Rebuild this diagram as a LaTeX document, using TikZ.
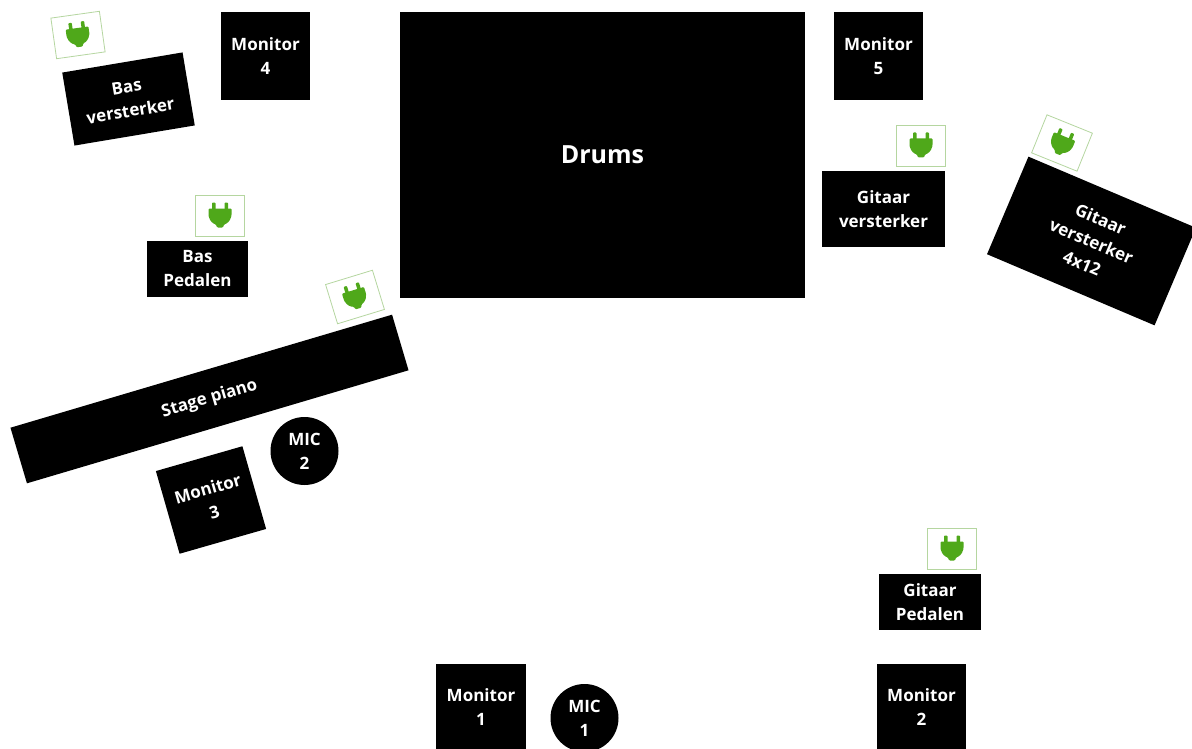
\documentclass[tikz,border=0pt]{standalone}
\usepackage{fontspec}
\setmainfont{Open Sans}
\definecolor{plugGreen}{HTML}{4FA81A}
\definecolor{plugEdge}{HTML}{B5D6A0}
\tikzset{
  x=1pt,y=-1pt,
  stagebox/.style={fill=black,draw=none,text=white,font=\fontsize{17}{24}\selectfont\bfseries,align=center,inner sep=0pt,outer sep=0pt},
  micdisc/.style={stagebox,circle,minimum size=68pt},
  plugbox/.style={draw=plugEdge,line width=0.8pt,fill=white,minimum width=#1,minimum height=41pt,inner sep=0pt},
  plugbox/.default=49pt,
  pics/plugicon/.style={code={
    \fill[plugGreen,rounded corners=0.8pt] (-8,-13) rectangle (-4.5,-3);
    \fill[plugGreen,rounded corners=0.8pt] (4.5,-13) rectangle (8,-3);
    \fill[plugGreen,rounded corners=1pt] (-11.5,-7) -- (11.5,-7) -- (11.5,0) .. controls (10,6) and (7,8) .. (4,9) -- (3,12) -- (-3,12) -- (-4,9) .. controls (-7,8) and (-10,6) .. (-11.5,0) -- cycle;
  }}
}
\begin{document}
\begin{tikzpicture}
\useasboundingbox (0,0) rectangle (1192,749);
\node[stagebox,minimum width=405pt,minimum height=286pt,font=\fontsize{25}{30}\selectfont\bfseries] (drums) at (602.5,155) {Drums};
\node[stagebox,minimum width=89pt,minimum height=88pt] (mon4) at (265.5,56) {Monitor\\4};
\node[stagebox,minimum width=89pt,minimum height=88pt] (mon5) at (878.5,56) {Monitor\\5};
\node[stagebox,minimum width=90pt,minimum height=86pt] (mon1) at (481,707) {Monitor\\1};
\node[stagebox,minimum width=89pt,minimum height=86pt] (mon2) at (921.5,707) {Monitor\\2};
\node[stagebox,minimum width=90pt,minimum height=86pt,rotate=16] (mon3) at (211,500) {Monitor\\3};
\node[stagebox,minimum width=122pt,minimum height=74pt,rotate=9.5] (basamp) at (128.5,99) {Bas\\versterker};
\node[stagebox,minimum width=101pt,minimum height=56pt] (baspedal) at (197.5,269) {Bas\\Pedalen};
\node[stagebox,minimum width=123pt,minimum height=76pt] (gitamp) at (883.5,209) {Gitaar\\versterker};
\node[stagebox,minimum width=102pt,minimum height=56pt] (gitpedal) at (930,602) {Gitaar\\Pedalen};
\node[stagebox,minimum width=182pt,minimum height=106pt,rotate=-23] (gitcab) at (1091.5,241) {Gitaar\\versterker\\4x12};
\node[stagebox,minimum width=398pt,minimum height=58pt,rotate=16.5,font=\fontsize{17}{20}\selectfont\bfseries] (piano) at (209.5,399) {Stage piano};
\node[micdisc] (mic2) at (304.5,451) {MIC\\2};
\node[micdisc] (mic1) at (584.5,718) {MIC\\1};
% power symbols
\node[plugbox,rotate=8] (plugA) at (78,35) {};
\pic[rotate=8] at (plugA) {plugicon};
\node[plugbox] (plugB) at (220,215.5) {};
\pic at (plugB) {plugicon};
\node[plugbox,rotate=17] (plugC) at (355,297) {};
\pic[rotate=17] at (plugC) {plugicon};
\node[plugbox] (plugD) at (921,145.5) {};
\pic at (plugD) {plugicon};
\node[plugbox,rotate=-22] (plugE) at (1062,143) {};
\pic[rotate=-22] at (plugE) {plugicon};
\node[plugbox] (plugF) at (952,548.5) {};
\pic at (plugF) {plugicon};
\end{tikzpicture}
\end{document}
